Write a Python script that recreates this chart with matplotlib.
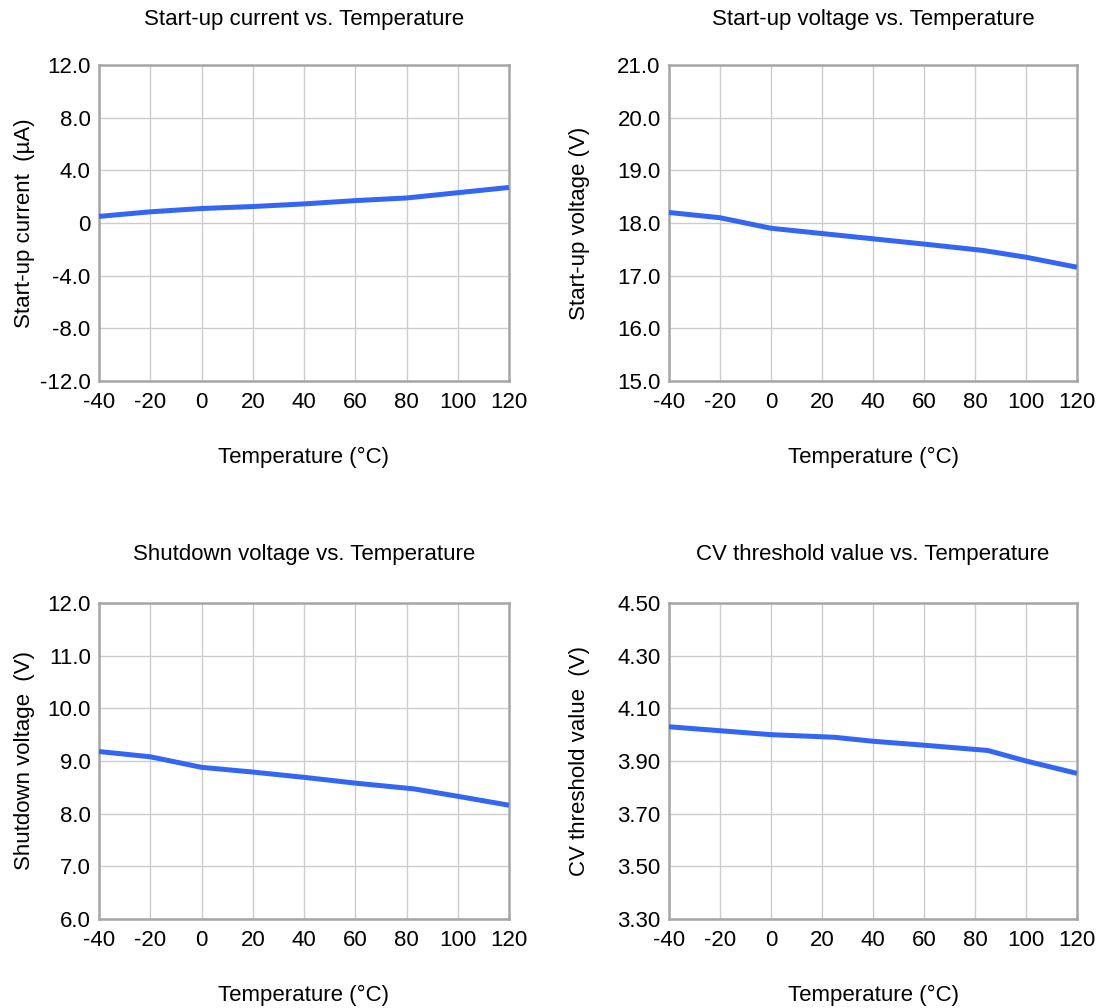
import matplotlib
matplotlib.use("Agg")
import matplotlib.pyplot as plt

plt.rcParams['font.family'] = ['Liberation Sans', 'DejaVu Sans']

temp_ticks = [-40, -20, 0, 20, 40, 60, 80, 100, 120]

t_current = [-40, -20, 0, 20, 40, 60, 80, 100, 120]
startup_current = [0.5, 0.85, 1.1, 1.25, 1.45, 1.7, 1.9, 2.3, 2.7]

t_vstart = [-40, -20, 0, 20, 40, 60, 83, 100, 120]
startup_voltage = [18.2, 18.1, 17.9, 17.8, 17.7, 17.6, 17.48, 17.35, 17.16]

t_vshut = [-40, -20, 0, 20, 40, 60, 83, 100, 120]
shutdown_voltage = [9.18, 9.08, 8.88, 8.79, 8.69, 8.58, 8.47, 8.33, 8.16]

t_cv = [-40, -20, 0, 25, 40, 60, 85, 100, 120]
cv_threshold = [4.03, 4.015, 4.0, 3.99, 3.975, 3.96, 3.94, 3.90, 3.853]

W, H = 1099, 1008


def rect(x0, x1, y0, y1):
    return [x0 / W, 1 - y1 / H, (x1 - x0) / W, (y1 - y0) / H]


panels = [
    dict(title="Start-up current vs. Temperature", ylabel="Start-up current  (\u00b5A)",
         x=t_current, y=startup_current, yticks=[-12, -8, -4, 0, 4, 8, 12],
         yticklabels=["-12.0", "-8.0", "-4.0", "0", "4.0", "8.0", "12.0"],
         rect=rect(99, 509, 65, 381), ylab_x=35),
    dict(title="Start-up voltage vs. Temperature", ylabel="Start-up voltage (V)",
         x=t_vstart, y=startup_voltage, yticks=[15, 16, 17, 18, 19, 20, 21],
         yticklabels=["15.0", "16.0", "17.0", "18.0", "19.0", "20.0", "21.0"],
         rect=rect(669, 1077, 65, 381), ylab_x=590),
    dict(title="Shutdown voltage vs. Temperature", ylabel="Shutdown voltage  (V)",
         x=t_vshut, y=shutdown_voltage, yticks=[6, 7, 8, 9, 10, 11, 12],
         yticklabels=["6.0", "7.0", "8.0", "9.0", "10.0", "11.0", "12.0"],
         rect=rect(99, 509, 603, 919), ylab_x=35),
    dict(title="CV threshold value vs. Temperature", ylabel="CV threshold value  (V)",
         x=t_cv, y=cv_threshold, yticks=[3.3, 3.5, 3.7, 3.9, 4.1, 4.3, 4.5],
         yticklabels=["3.30", "3.50", "3.70", "3.90", "4.10", "4.30", "4.50"],
         rect=rect(669, 1077, 603, 919), ylab_x=590),
]

fig = plt.figure(figsize=(W / 100, H / 100), dpi=100)
for i, p in enumerate(panels):
    ax = fig.add_axes(p["rect"])
    ax.plot(p["x"], p["y"], color="#3366f5", lw=3.6, solid_capstyle="butt", zorder=3, clip_on=False)
    ax.set_xlim(-40, 120)
    ax.set_ylim(p["yticks"][0], p["yticks"][-1])
    ax.set_xticks(temp_ticks)
    ax.set_xticklabels([str(t) for t in temp_ticks], fontsize=16)
    ax.set_yticks(p["yticks"])
    ax.set_yticklabels(p["yticklabels"], fontsize=16)
    ax.tick_params(axis="x", length=0, pad=8)
    ax.tick_params(axis="y", length=0, pad=6)
    ax.grid(True, color="#cccccc", lw=1.0)
    for s in ax.spines.values():
        s.set_color("#a6a6a6")
        s.set_linewidth(1.8)
    ax.set_title(p["title"], fontsize=16, pad=29 if i < 2 else 31)
    ax.set_xlabel("Temperature (\u00b0C)", fontsize=16)
    ax.set_ylabel(p["ylabel"], fontsize=16)
    x0 = p["rect"][0] * W
    wpx = p["rect"][2] * W
    hpx = p["rect"][3] * H
    ax.xaxis.set_label_coords(0.5, -66 / hpx)
    ax.yaxis.set_label_coords((p["ylab_x"] - x0) / wpx, 0.5)

fig.savefig("out.png", dpi=100)
